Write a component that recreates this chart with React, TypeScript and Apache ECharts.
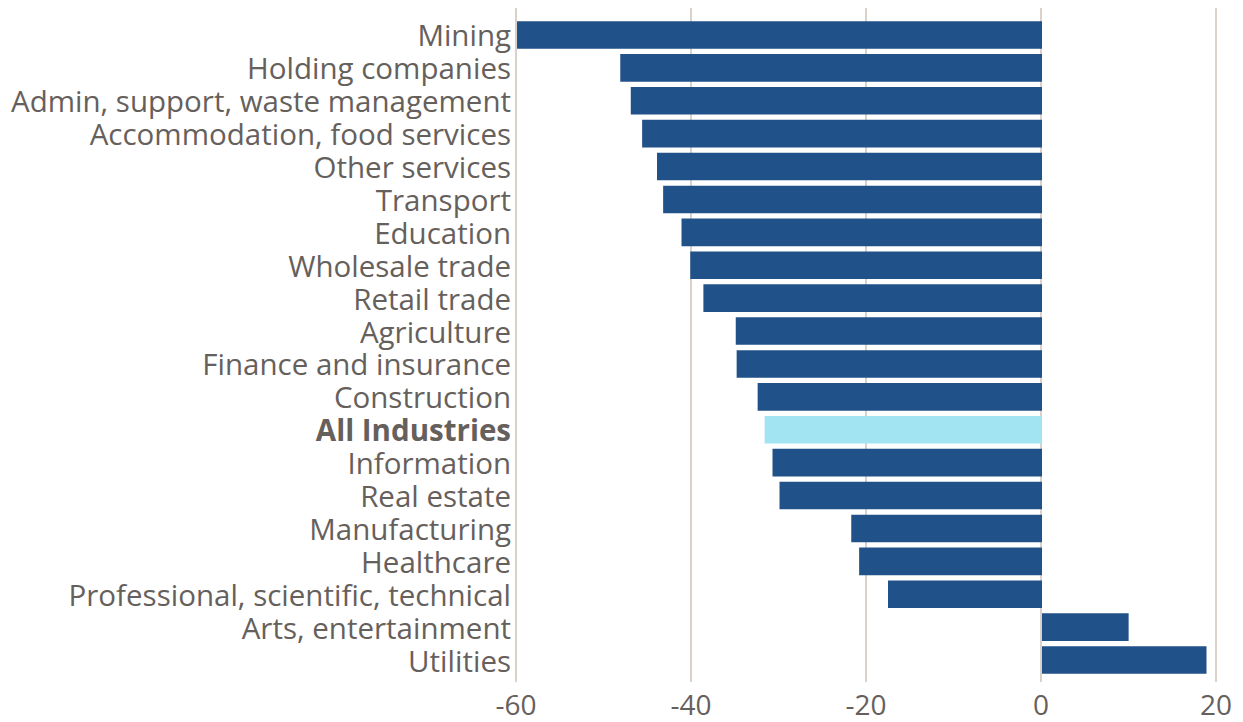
import React, { useEffect, useRef } from "react";
import * as echarts from "echarts";

const categories = [
  "Mining",
  "Holding companies",
  "Admin, support, waste management",
  "Accommodation, food services",
  "Other services",
  "Transport",
  "Education",
  "Wholesale trade",
  "Retail trade",
  "Agriculture",
  "Finance and insurance",
  "Construction",
  "All Industries",
  "Information",
  "Real estate",
  "Manufacturing",
  "Healthcare",
  "Professional, scientific, technical",
  "Arts, entertainment",
  "Utilities",
];

const values = [
  -60, -48.2, -47.0, -45.7, -44.0, -43.3, -41.2, -40.2, -38.7, -35.0, -34.9,
  -32.5, -31.7, -30.8, -30.0, -21.8, -20.9, -17.6, 9.9, 18.8,
];

const highlight = "All Industries";
const xTicks = [-60, -40, -20, 0, 20];

const FONT = "'Open Sans', Lato, sans-serif";
const TEXT = "#66605c";
const BAR = "#215189";
const BAR_HI = "#a3e4f2";
const GRIDLINE = "#d9d2cb";

export default function App() {
  const ref = useRef<HTMLDivElement>(null);
  useEffect(() => {
    if (!ref.current) return;
    const chart = echarts.init(ref.current, undefined, { renderer: "svg" });
    const left = 508;
    const right = 18;
    chart.setOption({
      animation: false,
      textStyle: { fontFamily: FONT },
      grid: [
        { left, right, top: 10.5, height: 658, containLabel: false },
        { left, right, top: 0, height: 674, containLabel: false },
      ],
      xAxis: [
        {
          gridIndex: 0,
          type: "value",
          min: xTicks[0],
          max: xTicks[xTicks.length - 1],
          interval: 20,
          axisLabel: { show: false },
          axisLine: { show: false },
          axisTick: { show: false },
          splitLine: { show: false },
        },
        {
          gridIndex: 1,
          type: "value",
          min: xTicks[0],
          max: xTicks[xTicks.length - 1],
          interval: 20,
          axisLabel: {
            show: true,
            color: TEXT,
            fontSize: 28,
            fontFamily: FONT,
            margin: 8,
          },
          axisLine: { show: false },
          axisTick: { show: false },
          splitLine: { show: true, lineStyle: { color: GRIDLINE, width: 2 } },
        },
      ],
      yAxis: [
        {
          gridIndex: 0,
          type: "category",
          data: categories,
          inverse: true,
          position: "left",
          axisLine: { show: false },
          axisTick: { show: false },
          splitLine: { show: false },
          axisLabel: {
            show: true,
            interval: 0,
            margin: 6,
            color: TEXT,
            fontSize: 29.5,
            lineHeight: 32,
            fontFamily: FONT,
            formatter: (v: string) => (v === highlight ? `{b|${v}}` : v),
            rich: {
              b: {
                fontWeight: "bold",
                color: TEXT,
                fontSize: 29.5,
                lineHeight: 32,
                fontFamily: FONT,
              },
            },
          },
        },
        {
          gridIndex: 1,
          type: "value",
          show: false,
        },
      ],
      series: [
        {
          type: "bar",
          xAxisIndex: 0,
          yAxisIndex: 0,
          barCategoryGap: "16%",
          data: values.map((v, i) => ({
            value: v,
            itemStyle: { color: categories[i] === highlight ? BAR_HI : BAR },
          })),
          z: 3,
        },
      ],
    });
    return () => chart.dispose();
  }, []);
  return <div ref={ref} style={{ width: 1227, height: 714 }} />;
}
